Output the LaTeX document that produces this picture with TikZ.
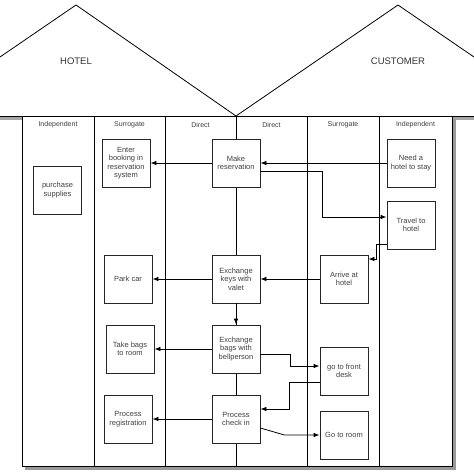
\documentclass[tikz,border=0pt]{standalone}
\usepackage{fontspec}
\setmainfont{Liberation Sans}
\usetikzlibrary{arrows.meta}
\tikzset{
    act/.style={draw=black!85, fill=white, line width=0.8pt, minimum width=48pt, minimum height=48pt,
        inner sep=1pt, align=center, text=black!75, font=\fontsize{7.5}{8.5}\selectfont},
    lane/.style={text=black!75, font=\fontsize{7}{8}\selectfont},
    side/.style={text=black!80, font=\fontsize{9.5}{11}\selectfont}
}
\begin{document}
\begin{tikzpicture}[x=1pt, y=-1pt, line width=0.8pt, >={Latex[length=6pt,width=4.5pt]}]
                    \useasboundingbox (0,0) rectangle (474,474);
                    \fill[black!35] (0,116) rectangle (22,120);
                    \fill[black!35] (452,116) rectangle (474,120);
                    \fill[black!40] (25,119) rectangle (455.5,469.5);
                    \draw (0,116) -- (474,116);
                    \draw (0,57) -- (76,5) -- (236,116) -- (398,5) -- (474,57);
                    \node[side] (hotel) at (76,61) {HOTEL};
                    \node[side] (customer) at (398,61) {CUSTOMER};
                    \draw[fill=white] (22,116) rectangle (452,466);
                    \foreach \x in {94,165,236,307,379}
                        \draw (\x,116) -- (\x,466);
                    \node[lane] (hi) at (58,125) {Independent};
                    \node[lane] (hs) at (129.5,125) {Surrogate};
                    \node[lane] (hd) at (200.5,125) {Direct};
                    \node[lane] (cd) at (271.5,125) {Direct};
                    \node[lane] (cs) at (343,125) {Surrogate};
                    \node[lane] (ci) at (415.5,125) {Independent};
                    \node[act] (mk) at (236,163) {Make\\reservation};
                    \node[act] (eb)[node distance=110pt, left of=mk] {Enter\\booking in\\reservation\\system};
                    \node[act] (need)[node distance=175pt, right of=mk] {Need a\\hotel to stay};
                    \node[act] (sup) at (57.5,190) {purchase\\supplies};
                    \node[act] (tr)[node distance=62pt, below of=need] {Travel to\\hotel};
                    \node[act] (keys) at (236,279) {Exchange\\keys with\\valet};
                    \node[act] (park)[node distance=108pt, left of=keys] {Park car};
                    \node[act] (ar)[node distance=108pt, right of=keys] {Arrive at\\hotel};
                    \node[act] (bags)[node distance=70pt, below of=keys] {Exchange\\bags with\\bellperson};
                    \node[act] (take)[node distance=106pt, left of=bags] {Take bags\\to room};
                    \node[act] (desk) at (344,371) {go to front\\desk};
                    \node[act] (chk)[node distance=70pt, below of=bags] {Process\\check in};
                    \node[act] (reg)[node distance=108pt, left of=chk] {Process\\registration};
                    \node[act] (room) at (344,435) {Go to room};
                    \draw[->] (need) to (mk);
                    \draw[->] (mk) to (eb);
                    \draw[->] ([yshift=-8pt]mk.east) -- ++(62,0) |- ([yshift=8pt]tr.west);
                    \draw[->] ([yshift=-19pt]tr.west) -- ++(-10,0) |- ([yshift=20pt]ar.east);
                    \draw[->] (ar) to (keys);
                    \draw[->] (keys) to (park);
                    \draw[->] (keys) to (bags);
                    \draw[->] (bags) to (take);
                    \draw[->] ([yshift=-5pt]bags.east) -- ++(30,0) |- ([yshift=5pt]desk.west);
                    \draw[->] ([yshift=-11pt]desk.west) -- ++(-30,0) |- ([yshift=10pt]chk.east);
                    \draw[->] ([yshift=-9pt]chk.east) -- ++(24,7) -- (room.west);
                    \draw[->] (chk) to (reg);
                \end{tikzpicture}
\end{document}
